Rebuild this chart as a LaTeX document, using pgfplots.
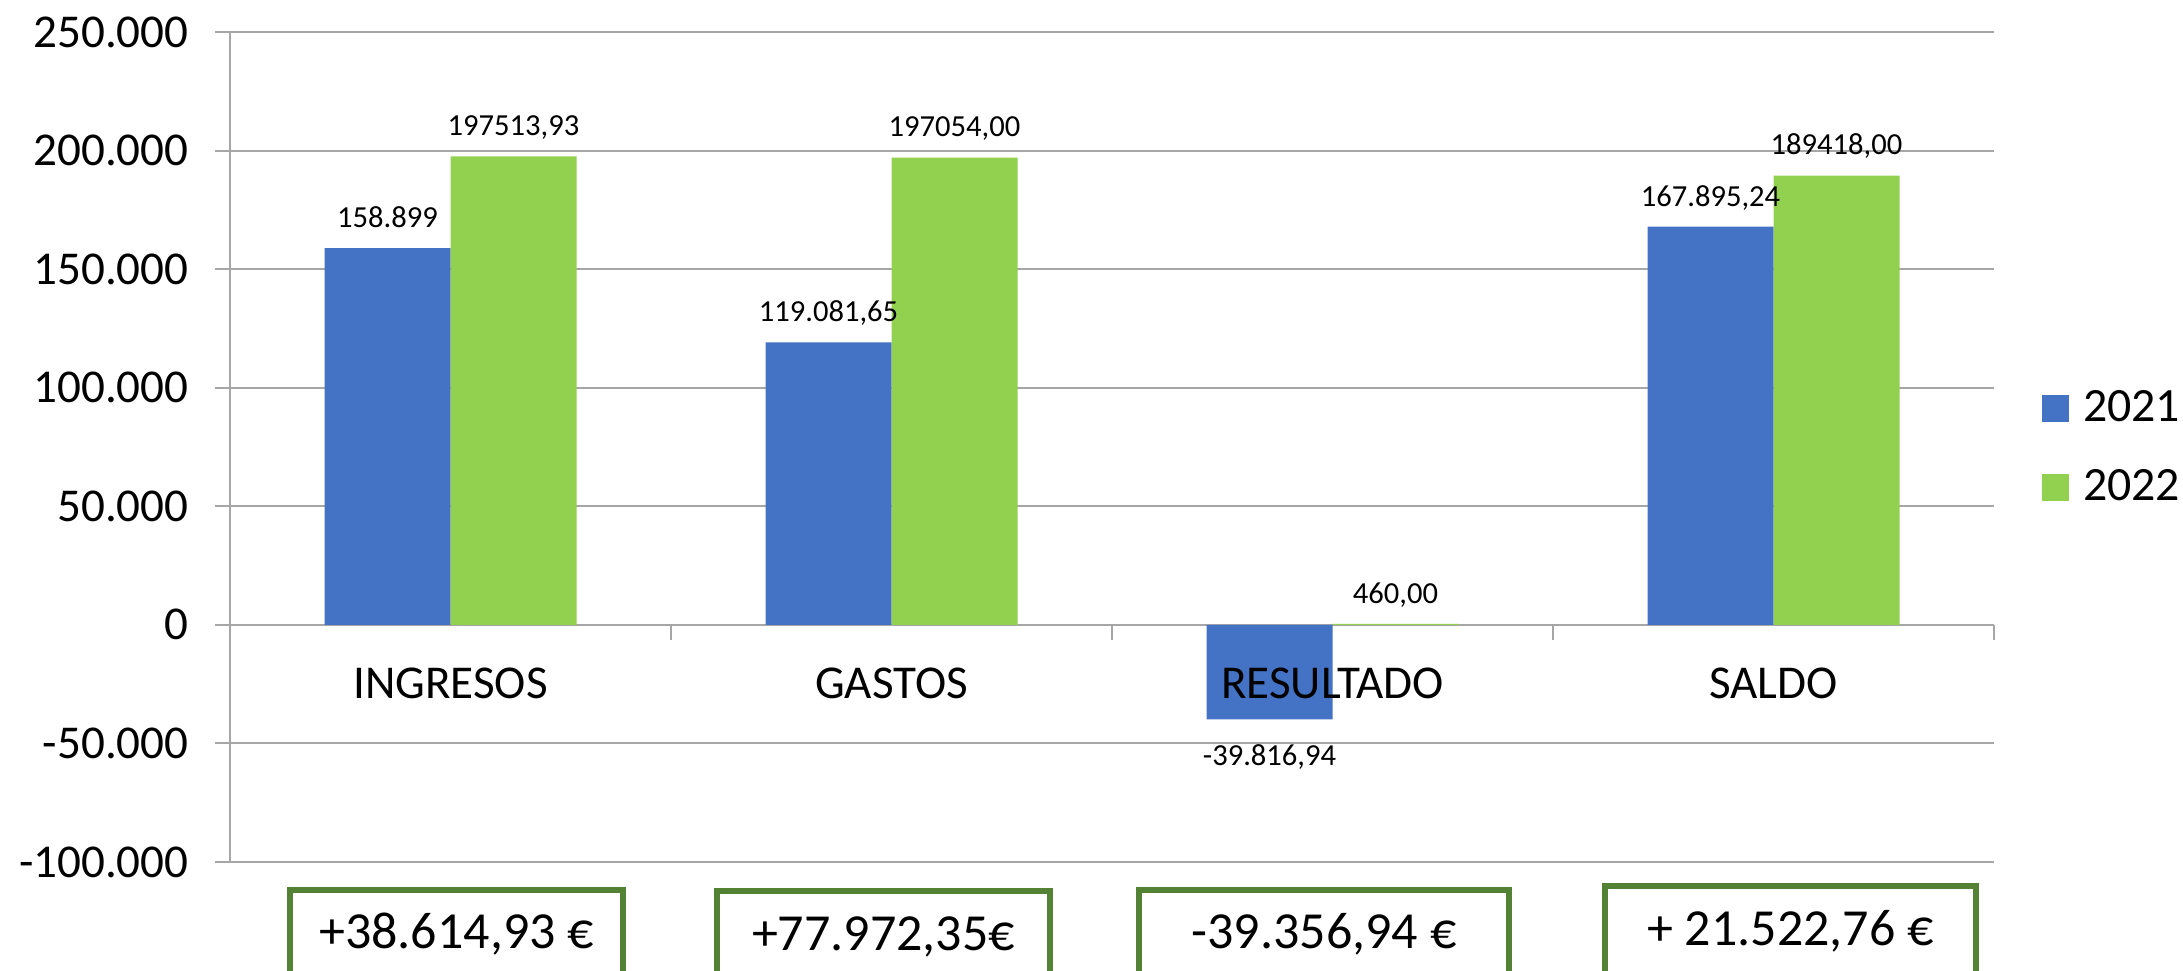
\documentclass[border=0pt]{standalone}
\usepackage{fontspec}
\setmainfont{Carlito}
\usepackage{pgfplots}
\usepackage{pgfplotstable}
\pgfplotsset{compat=1.18}
\definecolor{bblue}{HTML}{4472C4}
\definecolor{bgreen}{HTML}{92D050}
\definecolor{gridgray}{HTML}{A6A6A6}
\definecolor{boxgreen}{HTML}{548235}

% 2021 (label of the negative bar is drawn by the table \dC, below the bar)
\pgfplotstableread{
x y label
0 158899 {158.899}
1 119081.65 {119.081,65}
2 -39816.94 {}
3 167895.24 {167.895,24}
}\dA
% 2022
\pgfplotstableread{
x y label
0 197513.93 {197513,93}
1 197054.00 {197054,00}
2 460.00 {460,00}
3 189418.00 {189418,00}
}\dB
% negative 2021 value, label only
\pgfplotstableread{
x y label
2 -39816.94 {-39.816,94}
}\dC

\begin{document}
\begin{tikzpicture}
\begin{axis}[
  at={(2.30cm,-8.62cm)}, anchor=south west,
  scale only axis, width=17.64cm, height=8.30cm,
  xmin=-0.5, xmax=3.5, ymin=-100000, ymax=250000,
  enlargelimits=false,
  set layers,
  axis x line=middle, axis y line=left,
  axis line style={-, draw=gridgray, line width=0.6pt},
  ybar=0pt, bar width=1.26cm,
  xtick={-0.5,0.5,1.5,2.5,3.5},
  x tick label as interval,
  xticklabels={INGRESOS,GASTOS,RESULTADO,SALDO},
  ytick={-100000,-50000,0,50000,100000,150000,200000,250000},
  ymajorgrids, major grid style={draw=gridgray, line width=0.6pt},
  tick align=outside, major tick length=0.15cm,
  tick style={draw=gridgray, line width=0.6pt},
  hide obscured x ticks=false, hide obscured y ticks=false,
  scaled y ticks=false,
  tick label style={font=\fontsize{13.4}{16}\selectfont, text=black},
  yticklabel style={/pgf/number format/fixed, /pgf/number format/precision=0,
    /pgf/number format/1000 sep={.}, /pgf/number format/assume math mode=true,
    xshift=-0.14cm},
  xticklabel style={yshift=-0.16cm, /pgfplots/on layer=axis foreground},
  nodes near coords, point meta=explicit symbolic,
  every node near coord/.append style={font=\fontsize{8.7}{10}\selectfont,
    inner xsep=0pt, inner ysep=0.2cm, text depth=0pt, text=black, anchor=south},
  legend style={draw=none, fill=none, inner sep=0pt, outer sep=0pt,
    at={(1.0272,0.4988)}, anchor=west, row sep=0.43cm,
    font=\fontsize{13.6}{16}\selectfont,
    nodes={inner sep=0pt, anchor=west},
    /tikz/every odd column/.append style={column sep=0.14cm}},
  legend cell align=left,
  clip=false,
]
\addplot[fill=bblue, draw=none, bar shift=-0.63cm,
  legend image code/.code={\fill[bblue] (0cm,-0.135cm) rectangle (0.27cm,0.135cm);}]
  table[x=x, y=y, meta=label]{\dA};
\addplot[fill=bgreen, draw=none, bar shift=0.63cm,
  legend image code/.code={\fill[bgreen] (0cm,-0.135cm) rectangle (0.27cm,0.135cm);}]
  table[x=x, y=y, meta=label]{\dB};
\addplot[draw=none, fill=none, bar shift=-0.63cm, forget plot,
  every node near coord/.append style={anchor=north, yshift=-0.05cm}]
  table[x=x, y=y, meta=label]{\dC};
\legend{2021,2022}
\end{axis}
\begin{scope}[font=\fontsize{14.8}{17}\selectfont]
\draw[boxgreen, line width=0.06cm] (2.90,-9.90) rectangle (6.23,-8.90);
\node[anchor=base, inner sep=0pt] at (4.565,-9.48) {+38.614,93 €};
\draw[boxgreen, line width=0.06cm] (7.17,-9.90) rectangle (10.50,-8.91);
\node[anchor=base, inner sep=0pt] at (8.835,-9.50) {+77.972,35€};
\draw[boxgreen, line width=0.06cm] (11.39,-9.90) rectangle (15.09,-8.90);
\node[anchor=base, inner sep=0pt] at (13.24,-9.48) {-39.356,94 €};
\draw[boxgreen, line width=0.06cm] (16.05,-9.90) rectangle (19.76,-8.86);
\node[anchor=base, inner sep=0pt] at (17.905,-9.45) {+ 21.522,76 €};
\end{scope}
\pgfresetboundingbox
\path[use as bounding box] (0,0) rectangle (21.83,-9.70);
\end{tikzpicture}
\end{document}
